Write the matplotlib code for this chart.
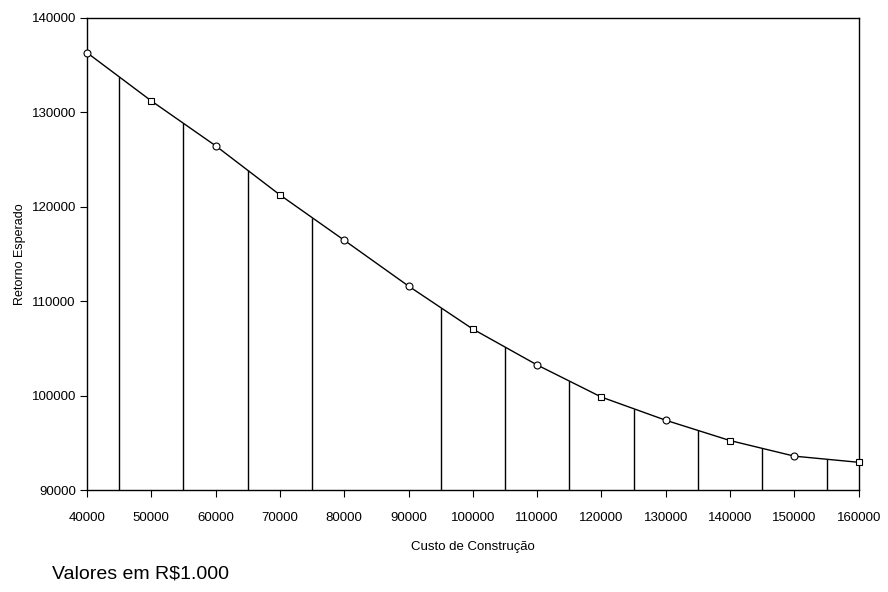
import numpy as np
import matplotlib
matplotlib.use("Agg")
import matplotlib.pyplot as plt

plt.rcParams["font.family"] = ["Liberation Sans", "DejaVu Sans"]

# Construction cost (x) and expected return (y)
custo = [40000, 50000, 60000, 70000, 80000, 90000, 100000,
         110000, 120000, 130000, 140000, 150000, 160000]
retorno = [136300, 131200, 126450, 121250, 116450, 111600, 107050,
           103250, 99850, 97400, 95250, 93600, 92950]
marcadores = ["o", "s", "o", "s", "o", "o", "s",
              "o", "s", "o", "s", "o", "s"]

# Intermediate costs where drop lines are drawn down to the axis
custo_barras = [45000, 55000, 65000, 75000, 95000, 105000,
                115000, 125000, 135000, 145000, 155000]

x_ticks = list(range(40000, 160001, 10000))
y_ticks = list(range(90000, 140001, 10000))

fig = plt.figure(figsize=(8.88, 5.92), dpi=100)
ax = fig.add_axes([0.098, 0.172, 0.869, 0.798])

y_min = 90000
alturas = np.interp(custo_barras, custo, retorno)
ax.vlines(custo_barras, y_min, alturas, color="black", linewidth=1.0)

ax.plot(custo, retorno, color="black", linewidth=1.0, zorder=3)
for m in ("o", "s"):
    xs = [x for x, k in zip(custo, marcadores) if k == m]
    ys = [y for y, k in zip(retorno, marcadores) if k == m]
    ax.plot(xs, ys, linestyle="none", marker=m, markersize=5,
            markerfacecolor="white", markeredgecolor="black",
            markeredgewidth=0.8, zorder=4, clip_on=False)

ax.set_xlim(40000, 160000)
ax.set_ylim(90000, 140000)
ax.set_xticks(x_ticks)
ax.set_yticks(y_ticks)
ax.tick_params(direction="out", length=5, width=0.8, labelsize=9.5)
ax.tick_params(axis="y", pad=3)
ax.tick_params(axis="x", pad=11)
for s in ax.spines.values():
    s.set_linewidth(1.0)

ax.set_xlabel("Custo de Construção", fontsize=9.5, labelpad=12)
ax.set_ylabel("Retorno Esperado", fontsize=9, labelpad=4)

fig.text(52 / 888, 1 - 578 / 592, "Valores em R$1.000", fontsize=14,
         ha="left", va="baseline")

fig.savefig("out.png", dpi=100)
